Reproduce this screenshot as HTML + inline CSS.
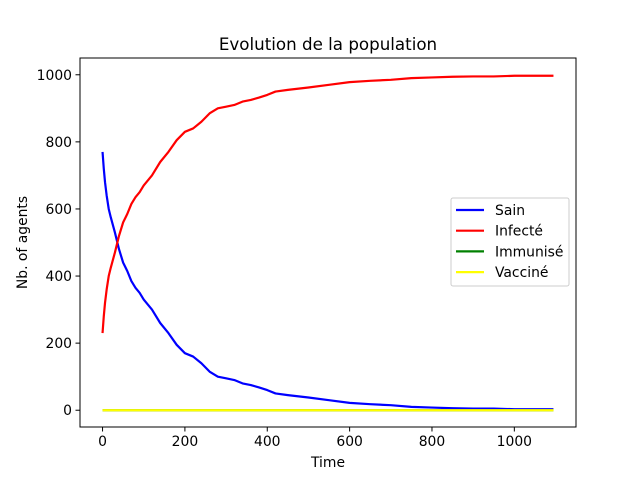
<!DOCTYPE html>
<html><head><meta charset="utf-8"><style>
body{margin:0;background:#fff;font-family:"DejaVu Sans","Liberation Sans",sans-serif;}
svg text{font-family:"DejaVu Sans","Liberation Sans",sans-serif;}
</style></head><body>
<svg id="chart" width="640" height="480" xmlns="http://www.w3.org/2000/svg">
<rect width="640" height="480" fill="#fff"/>
<g id="plot"></g>
</svg>
<script>
const times = [0,3,6,10,15,20,30,40,50,60,70,80,90,100,120,140,160,180,200,220,240,260,280,300,320,340,360,380,400,420,450,500,550,600,650,700,750,800,850,900,950,1000,1095];
const sain = [770,720,680,640,600,575,530,480,440,415,385,365,350,330,300,260,230,195,170,160,140,115,100,95,90,80,75,68,60,50,45,38,30,22,18,15,10,8,6,5,5,3,3];
const infecte = [230,280,320,360,400,425,470,520,560,585,615,635,650,670,700,740,770,805,830,840,860,885,900,905,910,920,925,932,940,950,955,962,970,978,982,985,990,992,994,995,995,997,997];
const immunise = [0,0,0,0,0,0,0,0,0,0,0,0,0,0,0,0,0,0,0,0,0,0,0,0,0,0,0,0,0,0,0,0,0,0,0,0,0,0,0,0,0,0,0];
const vaccine = [0,0,0,0,0,0,0,0,0,0,0,0,0,0,0,0,0,0,0,0,0,0,0,0,0,0,0,0,0,0,0,0,0,0,0,0,0,0,0,0,0,0,0];
const xTicks = [0,200,400,600,800,1000];
const yTicks = [0,200,400,600,800,1000];
const seriesNames = ["Sain","Infecté","Immunisé","Vacciné"];

const L=80,R=576,T=58,B=427;
const xmin=-54.75,xmax=1149.75,ymin=-50,ymax=1050;
const X=v=>L+(v-xmin)/(xmax-xmin)*(R-L);
const Y=v=>B-(v-ymin)/(ymax-ymin)*(B-T);
const NS="http://www.w3.org/2000/svg";
const g=document.getElementById('plot');
function mk(tag,attrs,parent){const e=document.createElementNS(NS,tag);for(const k in attrs)e.setAttribute(k,attrs[k]);(parent||g).appendChild(e);return e;}

const colors=["#0000ff","#ff0000","#008000","#ffff00"];
const data=[sain,infecte,immunise,vaccine];
[0,1,2,3].forEach(i=>{
  const p=mk('polyline',{points:times.map((t,j)=>X(t)+','+Y(data[i][j])).join(' '),fill:'none',stroke:colors[i],'stroke-width':2.2,'stroke-linejoin':'round'});
  
  
});

const frame=mk('rect',{x:L,y:T,width:R-L,height:B-T,fill:'none',stroke:'#000','stroke-width':1});



xTicks.forEach(v=>{
  mk('line',{x1:X(v),x2:X(v),y1:B,y2:B+4.5,stroke:'#000'});
  const t=mk('text',{x:X(v),y:B+19,'text-anchor':'middle','font-size':13.9});
  t.textContent=v;
  
  
});
yTicks.forEach(v=>{
  mk('line',{x1:L-4.5,x2:L,y1:Y(v),y2:Y(v),stroke:'#000'});
  const t=mk('text',{x:L-8,y:Y(v)+5,'text-anchor':'end','font-size':13.9});
  t.textContent=v;
  
  
});

const title=mk('text',{x:(L+R)/2,y:50,'text-anchor':'middle','font-size':16.7});
title.textContent='Evolution de la population';


const xl=mk('text',{x:(L+R)/2,y:467,'text-anchor':'middle','font-size':13.9});
xl.textContent='Time';


const yl=mk('text',{x:0,y:0,'text-anchor':'middle','font-size':13.9,transform:'translate(27,'+((T+B)/2)+') rotate(-90)'});
yl.textContent='Nb. of agents';



const lg=mk('g',{});


mk('rect',{x:451,y:198,width:118,height:88,rx:2,fill:'#fff','fill-opacity':0.8,stroke:'#ccc'},lg);
seriesNames.forEach((n,i)=>{
  const yy=210+i*20.7;
  mk('line',{x1:456,x2:484,y1:yy,y2:yy,stroke:colors[i],'stroke-width':2.2},lg);
  const t=mk('text',{x:495,y:yy+5,'font-size':13.9},lg);
  t.textContent=n;
  
  
});
</script>
</body></html>
